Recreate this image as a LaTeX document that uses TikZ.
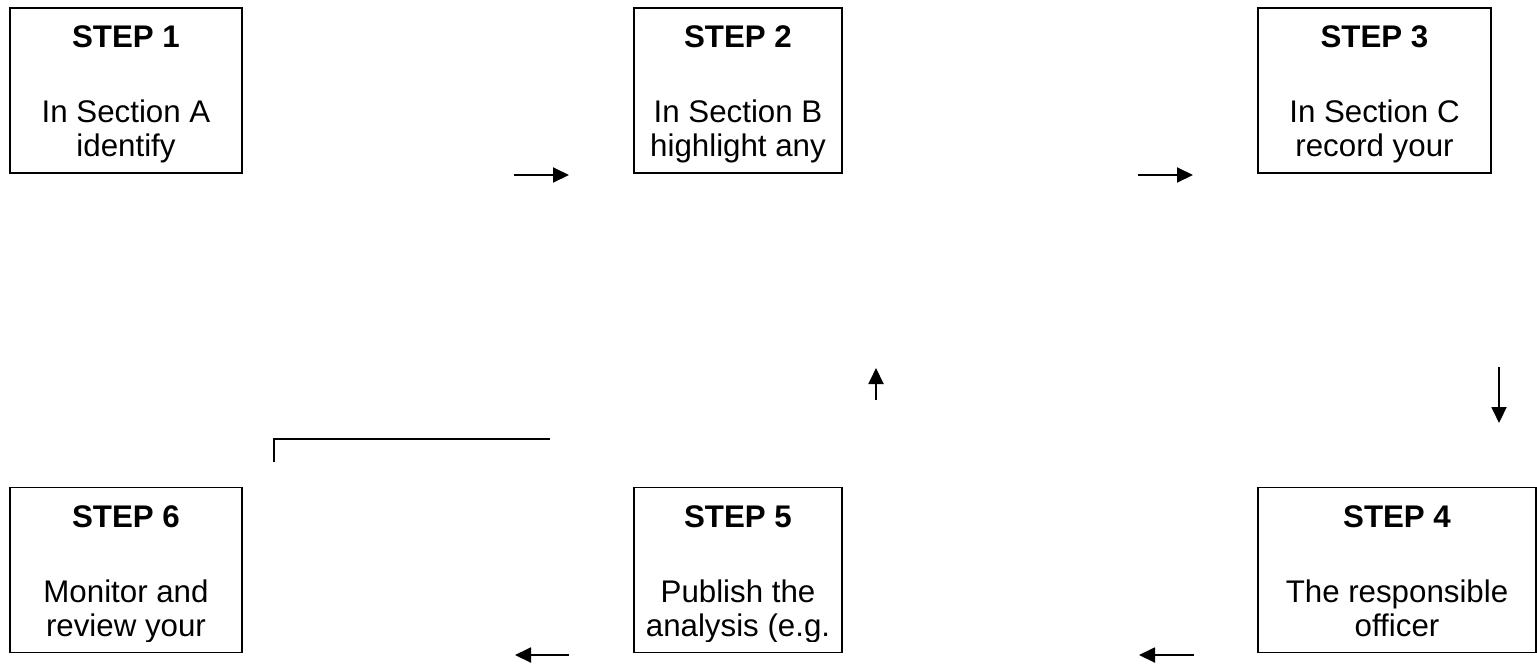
\documentclass[tikz,border=0pt]{standalone}
\usepackage{fontspec}
\setmainfont{Liberation Sans}
\usetikzlibrary{arrows.meta}
\tikzset{stepbox/.style = {draw,line width=0.8pt,minimum height=3.3cm,inner sep=0pt}}
\tikzset{steptitle/.style = {anchor=base,inner sep=0pt,font=\fontsize{17.8pt}{21pt}\selectfont\bfseries}}
\tikzset{steptext/.style = {anchor=base,inner sep=0pt,font=\fontsize{17.8pt}{21pt}\selectfont}}
\tikzset{flow/.style = {line width=1.1pt,-{Triangle[length=0.32cm,width=0.3cm]}}}
\begin{document}
\begin{tikzpicture}[x=0.02cm,y=-0.02cm]
                    \useasboundingbox (0,0) rectangle (1537,663);
                    % top row
                    \node [stepbox,minimum width=4.64cm] (S1) at (126,90.5) {};
                    \node [stepbox,minimum width=4.16cm] (S2) at (738,90.5) {};
                    \node [stepbox,minimum width=4.66cm] (S3) at (1374.5,90.5) {};
                    % bottom row
                    \node [stepbox,minimum width=4.64cm] (S6) at (126,570) {};
                    \node [stepbox,minimum width=4.16cm] (S5) at (738,570) {};
                    \node [stepbox,minimum width=5.56cm] (S4) at (1397,570) {};

                    \begin{scope}
                        \clip ([yshift=0.22cm]S1.south west) rectangle (S1.north east);
                        \node [steptitle] (T1) at (126,47) {STEP 1};
                        \node [steptext] (L1a) at (126,122) {In Section A};
                        \node [steptext] (L1b) at (126,156) {identify};
                    \end{scope}
                    \begin{scope}
                        \clip ([yshift=0.22cm]S2.south west) rectangle (S2.north east);
                        \node [steptitle] (T2) at (738,47) {STEP 2};
                        \node [steptext] (L2a) at (738,122) {In Section B};
                        \node [steptext] (L2b) at (738,156) {highlight any};
                    \end{scope}
                    \begin{scope}
                        \clip ([yshift=0.22cm]S3.south west) rectangle (S3.north east);
                        \node [steptitle] (T3) at (1374.5,47) {STEP 3};
                        \node [steptext] (L3a) at (1374.5,122) {In Section C};
                        \node [steptext] (L3b) at (1374.5,156) {record your};
                    \end{scope}
                    \begin{scope}
                        \clip ([yshift=0.24cm]S4.south west) rectangle (S4.north east);
                        \node [steptitle] (T4) at (1397,527) {STEP 4};
                        \node [steptext] (L4a) at (1397,602) {The responsible};
                        \node [steptext] (L4b) at (1397,636) {officer};
                    \end{scope}
                    \begin{scope}
                        \clip ([yshift=0.24cm]S5.south west) rectangle (S5.north east);
                        \node [steptitle] (T5) at (738,527) {STEP 5};
                        \node [steptext] (L5a) at (738,602) {Publish the};
                        \node [steptext] (L5b) at (738,636) {analysis (e.g.};
                    \end{scope}
                    \begin{scope}
                        \clip ([yshift=0.24cm]S6.south west) rectangle (S6.north east);
                        \node [steptitle] (T6) at (126,527) {STEP 6};
                        \node [steptext] (L6a) at (126,602) {Monitor and};
                        \node [steptext] (L6b) at (126,636) {review your};
                    \end{scope}

                    % arrows
                    \coordinate (A12) at (514,175);
                    \coordinate (B12) at (569,175);
                    \coordinate (A23) at (1138,175);
                    \coordinate (B23) at (1193,175);
                    \coordinate (A34) at (1499,367);
                    \coordinate (B34) at (1499,423);
                    \coordinate (A45) at (1194,655);
                    \coordinate (B45) at (1139,655);
                    \coordinate (A56) at (569,655);
                    \coordinate (B56) at (515,655);
                    \coordinate (AUp) at (876,400);
                    \coordinate (BUp) at (876,368);
                    \draw [flow] (A12) -- (B12);
                    \draw [flow] (A23) -- (B23);
                    \draw [flow] (A34) -- (B34);
                    \draw [flow] (A45) -- (B45);
                    \draw [flow] (A56) -- (B56);
                    \draw [flow] (AUp) -- (BUp);

                    \coordinate (E1) at (274,462);
                    \coordinate (E2) at (550,439);
                    \draw [line width=1.1pt] (E1) |- (E2);
                \end{tikzpicture}
\end{document}
